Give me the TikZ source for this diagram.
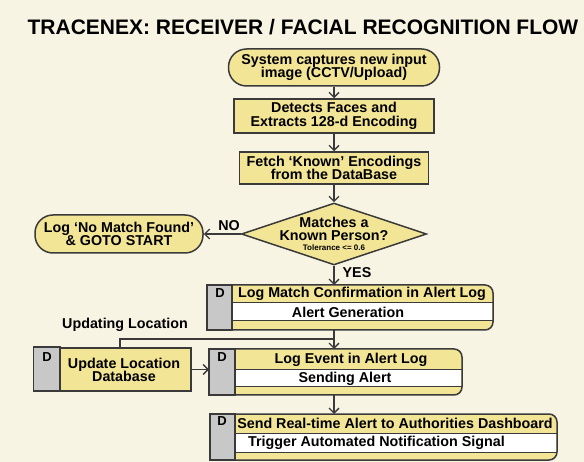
\documentclass[tikz,border=0pt]{standalone}
\usepackage{fontspec}
\setmainfont{Liberation Sans}
\usetikzlibrary{arrows.meta,shapes.geometric}
\definecolor{bg}{RGB}{248,244,228}
\definecolor{yel}{RGB}{243,229,150}
\definecolor{edge}{RGB}{58,58,58}
\definecolor{stripgray}{RGB}{200,200,200}
\tikzset{
 txt/.style={font=\bfseries\fontsize{14.3}{13.5}\selectfont, align=center, inner sep=0pt, text=black},
 smalltxt/.style={font=\bfseries\fontsize{8}{8}\selectfont, inner sep=0pt, text=black},
 stadium/.style={draw=edge, fill=yel, line width=1.5pt, rounded corners=18pt, inner sep=0pt},
 procbox/.style={draw=edge, fill=yel, line width=1.5pt, inner sep=0pt},
 decision/.style={diamond, draw=edge, fill=yel, line width=1.5pt, inner sep=0pt},
 frame/.style={inner sep=0pt, outer sep=0pt, draw=none},
 dbox/.style={draw=edge, fill=yel, line width=1.5pt, rounded corners=8pt},
 stripbox/.style={draw=edge, fill=stripgray, line width=1.5pt},
 bandline/.style={draw=edge, line width=1pt},
 arr/.style={draw=edge, line width=1.3pt, -{Straight Barb[length=5pt,width=10pt]}},
 conn/.style={draw=edge, line width=1.3pt},
 dletter/.style={font=\bfseries\fontsize{13}{13}\selectfont, inner sep=0pt},
}
\begin{document}
\begin{tikzpicture}[x=1pt,y=-1pt]
\fill[bg] (0,0) rectangle (584,462);
\useasboundingbox (0,0) rectangle (584,462);
\node[font=\bfseries\fontsize{21}{24}\selectfont, inner sep=0pt] (title) at (303,27) {TRACENEX: RECEIVER / FACIAL RECOGNITION FLOW};

% main column
\node[stadium, txt, minimum width=211pt, minimum height=37pt] (start) at (334,67.5) {System captures new input\\image (CCTV/Upload)};
\node[procbox, txt, minimum width=200pt, minimum height=34pt] (detect) at (334,116) {Detects Faces and\\Extracts 128-d Encoding};
\node[procbox, txt, minimum width=189pt, minimum height=32pt] (fetch) at (334,168) {Fetch ‘Known’ Encodings\\from the DataBase};
\node[decision, minimum width=185pt, minimum height=62pt] (dia) at (334,234) {};
\node[txt] (diat) at (334,229) {Matches a\\Known Person?};
\node[smalltxt] (diatol) at (334,247.5) {Tolerance <= 0.6};
\node[stadium, txt, minimum width=168pt, minimum height=38pt] (nomatch) at (119,234) {Log ‘No Match Found’\\\& GOTO START};

% D1
\node[frame, minimum width=286pt, minimum height=45pt] (d1) at (350,307.5) {};
\draw[dbox] (d1.north west) rectangle (d1.south east);
\fill[white] (232,303) rectangle (492.2,321);
\draw[bandline] (232,303) -- (493,303) (232,321) -- (493,321);
\draw[stripbox] (d1.north west) rectangle (232,330);
\node[dletter] (d1d) at (220,293) {D};
\node[txt] (d1a) at (362,294) {Log Match Confirmation in Alert Log};
\node[txt] (d1b) at (348,312) {Alert Generation};

% D2
\node[frame, minimum width=253pt, minimum height=46pt] (d2) at (335.5,372) {};
\draw[dbox] (d2.north west) rectangle (d2.south east);
\fill[white] (235,370) rectangle (461.2,387);
\draw[bandline] (235,370) -- (462,370) (235,387) -- (462,387);
\draw[stripbox] (d2.north west) rectangle (235,395);
\node[dletter] (d2d) at (222,357) {D};
\node[txt] (d2a) at (351,359.5) {Log Event in Alert Log};
\node[txt] (d2b) at (345,378.5) {Sending Alert};

% D3
\node[frame, minimum width=347pt, minimum height=46pt] (d3) at (383.5,437) {};
\draw[dbox] (d3.north west) rectangle (d3.south east);
\fill[white] (235,433) rectangle (556.2,452);
\draw[bandline] (235,433) -- (557,433) (235,452) -- (557,452);
\draw[stripbox] (d3.north west) rectangle (235,460);
\node[dletter] (d3d) at (222,421) {D};
\node[txt] (d3a) at (395,423.5) {Send Real-time Alert to Authorities Dashboard};
\node[txt] (d3b) at (376.5,442.5) {Trigger Automated Notification Signal};

% Update location
\node[procbox, minimum width=157pt, minimum height=43pt] (upd) at (112.5,369.5) {};
\draw[stripbox] (upd.north west) rectangle (60,391);
\node[dletter] (updd) at (47,357) {D};
\node[txt] (updt) at (124,370) {Update Location\\Database};
\node[txt] (updlbl) at (125,325) {Updating Location};

% connectors
\coordinate (j) at (334,339);
\coordinate (uj) at (120,339);
\draw[arr] (start) -- (detect);
\draw[arr] (detect) -- (fetch);
\draw[arr] (fetch) -- (dia);
\draw[arr] (dia.west) -- (nomatch.east);
\node[txt] (nolbl) at (229,226) {NO};
\draw[arr] (dia.south) -- (dia.south |- d1.north);
\node[txt] (yeslbl) at (357,273) {YES};
\draw[arr] (d1.south -| j) -- (d2.north -| j);
\draw[conn] (upd.north -| uj) -- (uj) -- (j);
\draw[arr] (upd.east) -- (upd.east -| d2.west);
\draw[arr] (d2.south -| j) -- (d3.north -| j);
\end{tikzpicture}
\end{document}
